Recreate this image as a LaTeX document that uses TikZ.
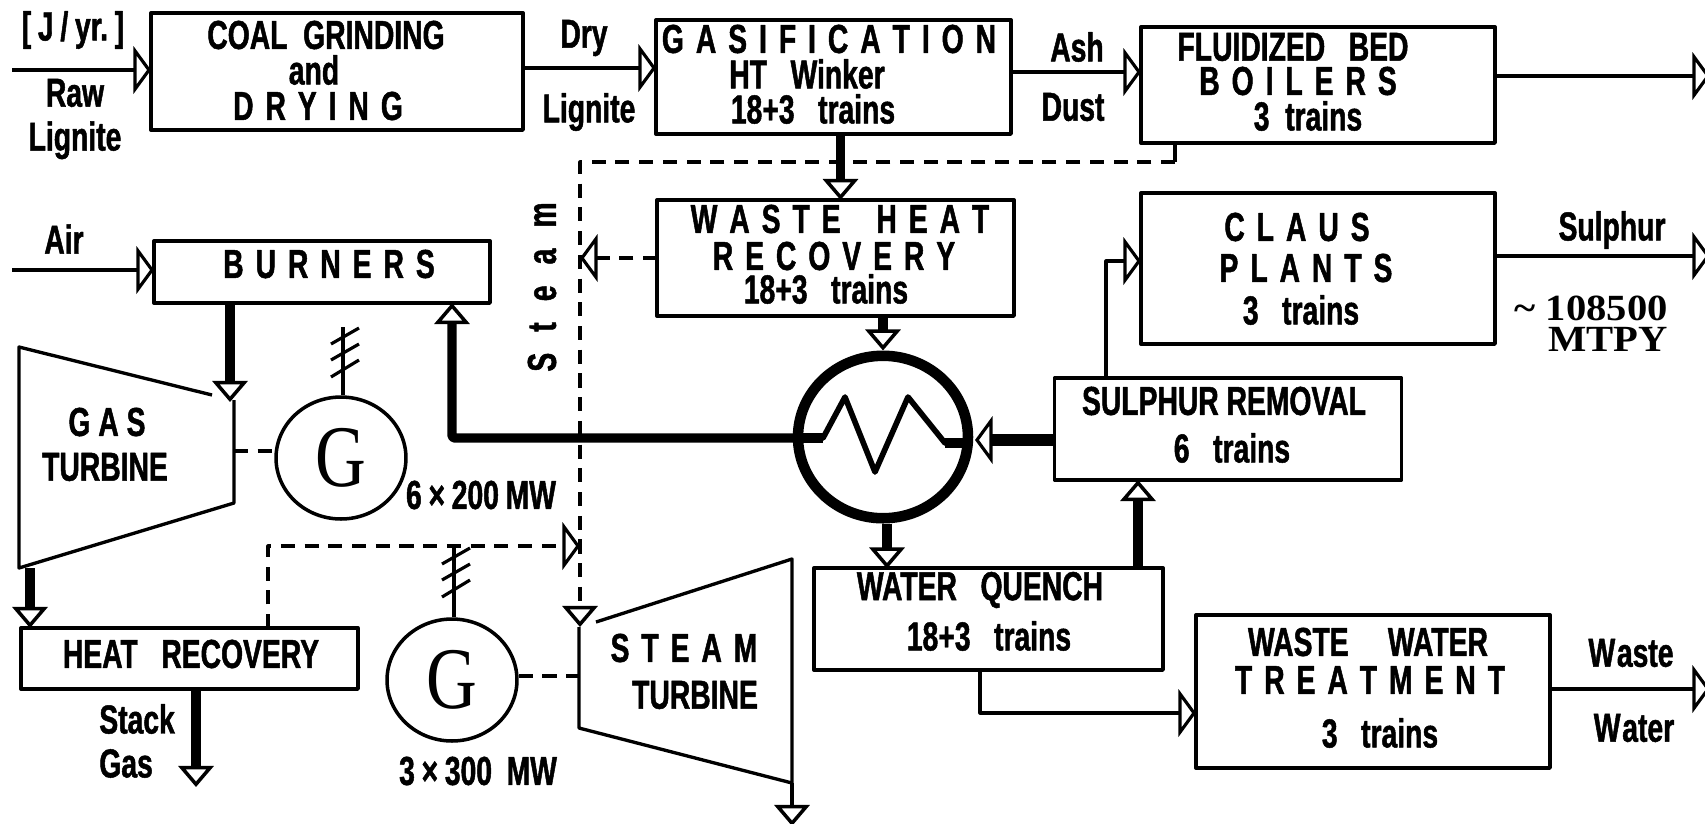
\documentclass[tikz,border=0pt]{standalone}
\usepackage{fontspec}
\setmainfont{Liberation Sans}[FakeStretch=0.7,UprightFont=* Bold,FakeBold=1.2]
\newfontfamily\genfont{Liberation Serif}[FakeStretch=0.8]
\newfontfamily\tonfont{Liberation Serif}[FakeStretch=1.1,UprightFont=* Bold]
\usetikzlibrary{arrows.meta,calc,positioning,shapes.geometric}
\tikzset{
  unit box/.style 2 args={draw,line width=1.9pt,minimum width=#1*0.02cm,minimum height=#2*0.02cm,inner sep=0pt,outer sep=0pt},
  unit label/.style={font=\fontsize{23}{25}\selectfont,inner sep=0pt,align=center},
  spread label/.style={unit label,execute at begin node={\spaceskip=6.8pt\relax}},
  gen/.style={draw,ellipse,line width=2pt,minimum width=2.6cm,minimum height=2.44cm,inner sep=0pt,font=\genfont\fontsize{50}{50}\selectfont},
  side tip/.style={-{Triangle[length=10pt,width=27pt,fill=white,line width=1.8pt]}},
  drop tip/.style={-{Triangle[length=12pt,width=20pt,fill=white,line width=2pt]}},
  thin flow/.style={line width=1.8pt,side tip},
  thick flow/.style={line width=5.2pt,drop tip},
  steam flow/.style={line width=1.8pt,dash pattern=on 8pt off 5.5pt},
  shell/.style={line width=1.9pt}
}
\newcommand{\BusTicks}[1]{\draw[line width=1.8pt,shift={(#1)}] (-12,17)--(16,1) (-12,33)--(16,17) (-12,50)--(16,33);}

\begin{document}
\begin{tikzpicture}[x=0.02cm,y=-0.02cm,line join=round]
  \useasboundingbox (0,0) rectangle (1705,823);

  \node[unit box={372}{117}] (coal)    at (337,71.5)   {};
  \node[unit box={355}{114}] (gasif)   at (833.5,77)   {};
  \node[unit box={354}{116}] (boilers) at (1318,85)    {};
  \node[unit box={357}{116}] (whr)     at (835.5,258)  {};
  \node[unit box={354}{151}] (claus)   at (1318,268.5) {};
  \node[unit box={336}{62}]  (burners) at (322,272)    {};
  \node[unit box={347}{102}] (sulrem)  at (1228,429)   {};
  \node[unit box={349}{102}] (quench)  at (988.5,619)  {};
  \node[unit box={354}{153}] (wwt)     at (1373,691.5) {};
  \node[unit box={337}{61}]  (hrec)    at (189.5,658.5) {};
  \node[gen] (genA) at (341,458) {G};
  \node[gen] (genB) at (452,680) {G};
  \node[draw,ellipse,line width=6pt,minimum width=3.4cm,minimum height=3.25cm,inner sep=0pt] (hx) at (883,437) {};

  \coordinate (rawin)  at (12,70);
  \coordinate (airin)  at (12,270);
  \coordinate (dry)    at (0,68);
  \coordinate (ash)    at (0,72);
  \coordinate (boilout) at (1710,76);
  \coordinate (sulout) at (1710,256);
  \coordinate (wwout)  at (1710,689);
  \coordinate (gtin)   at (230,402);
  \coordinate (gtout)  at (30,568);
  \coordinate (hgas)   at (452,438);
  \coordinate (clausin) at (1106,261);
  \coordinate (qout)   at (980,713);
  \coordinate (stack)  at (196,787);
  \coordinate (stout)  at (792,783);
  \coordinate (stend)  at (792,826);
  \coordinate (stin)   at (580,627);
  \coordinate (boilst) at (1175,162);
  \coordinate (stmain) at (580,162);
  \coordinate (hrst)   at (268,546);
  \coordinate (stmid)  at (580,546);
  \coordinate (busA)   at (343,327);
  \coordinate (busB)   at (454,547);

  % turbines
  \draw[shell] (212,395)--(19,347)--(19,568)--(234,503)--(234,400);
  \draw[shell] (596,622)--(stout|-0,559)--(stout)--(579,728)--(579,627);

  % main flows
  \draw[thin flow] (rawin) -- (rawin -| coal.west);
  \draw[thin flow] (airin) -- (airin -| burners.west);
  \draw[thin flow] (coal.east |- dry) -- (gasif.west |- dry);
  \draw[thin flow] (gasif.east |- ash) -- (boilers.west |- ash);
  \draw[thin flow] (boilers.east |- boilout) -- (boilout);
  \draw[thin flow] (claus.east |- sulout) -- (sulout);
  \draw[thin flow] (wwt.east |- wwout) -- (wwout);
  \draw[thin flow] (sulrem.north -| clausin) -- (clausin) -- (claus.west |- clausin);
  \draw[thin flow] (quench.south -| qout) -- (qout) -- (wwt.west |- qout);
  \draw[line width=1.8pt,drop tip] (stout) -- (stend);
  \draw[thick flow] (burners.south -| gtin) -- (gtin);
  \draw[thick flow] (gtout) -- (hrec.north -| gtout);
  \draw[thick flow] (hrec.south -| stack) -- (stack);
  \draw[thick flow] (gasif.south -| whr.north) ++(5,0) -- ++(0,66);
  \draw[thick flow] (whr.south -| hx.north) -- (hx.north);
  \draw[thick flow] (hx.south) ++(4,0) -- ++(0,45);
  \draw[thick flow] (quench.north -| 1138,0) -- (sulrem.south -| 1138,0);
  \draw[thick flow,rounded corners=1pt] (hx.west |- hgas) -- (hgas) -- (burners.south -| hgas);
  \draw[line width=6.5pt,side tip] (sulrem.west |- 0,440) -- (975,440);

  % exchanger coil
  \draw[line width=3.2pt] (hx.west |- hgas) -- (823,438) -- (845,397) -- (875,472) -- (908,397) -- (945,443) -- (968,443);
  \draw[line width=5.5pt] (hx.west |- hgas) -- (823,438);
  \draw[line width=5.5pt] (945,443) -- (968,443);

  % steam lines
  \draw[line width=1.8pt] (boilers.south -| boilst) -- (boilst);
  \draw[steam flow,drop tip] (boilst) -- (stmain) -- (stin);
  \draw[steam flow,side tip] (whr.west) -- (whr.west -| stmain);
  \draw[steam flow,side tip] (hrec.north -| hrst) -- (hrst) -- (stmid);
  \draw[steam flow] (234,451) -- (genA.west |- 0,451);
  \draw[steam flow] (genB.east |- 0,676) -- (579,676);

  % generator leads
  \draw[line width=1.8pt] (genA.north -| busA) -- (busA);
  \draw[line width=1.8pt] (genB.north -| busB) -- (busB);
  \BusTicks{busA}
  \BusTicks{busB}

  \node[unit label] (units)  at (73,30)    {[\,J\,/\,yr.\,]};
  \node[unit label] (raw)    at (75,119)   {Raw\\Lignite};
  \node[unit label] (coalA)  at (326,35)   {COAL\ \ GRINDING};
  \node[unit label] (coalB)  at (314,70)   {and};
  \node[spread label] (coalC)  at (318,106)  {D R Y I N G};
  \node[unit label] (dryA)   at (584,38)   {Dry};
  \node[unit label] (dryB)   at (589,112)  {Lignite};
  \node[spread label] (gasA)   at (829,39)   {G A S I F I C A T I O N};
  \node[unit label] (gasB)   at (807,74)   {HT\ \ \ Winker};
  \node[unit label] (gasC)   at (813,109)  {18+3\ \ \ trains};
  \node[unit label] (ashA)   at (1077,47)  {Ash};
  \node[unit label] (ashB)   at (1073,107) {Dust};
  \node[unit label] (boilA)  at (1293,47)  {FLUIDIZED\ \ \ BED};
  \node[spread label] (boilB)  at (1298,81)  {B O I L E R S};
  \node[unit label] (boilC)  at (1308,116) {3\ \ trains};
  \node[unit label] (air)    at (64,239)   {Air};
  \node[spread label] (burn)   at (329,264)  {B U R N E R S};
  \node[unit label,rotate=90,execute at begin node={\spaceskip=12pt\relax}] (steam) at (542,287) {S t e a m};
  \node[spread label] (whrA)   at (840,219)  {W A S T E\ \ \ H E A T};
  \node[spread label] (whrB)   at (834,256)  {R E C O V E R Y};
  \node[unit label] (whrC)   at (826,289)  {18+3\ \ \ trains};
  \node[spread label] (clausA) at (1297,227) {C L A U S};
  \node[spread label] (clausB) at (1306,268) {P L A N T S};
  \node[unit label] (clausC) at (1301,310) {3\ \ \ trains};
  \node[unit label] (sulph)  at (1612,230) {Sulphur};
  \node[unit label,font=\tonfont\fontsize{21}{17.5}\selectfont,align=right,anchor=east] (tons) at (1668,324) {\textasciitilde{} 108500\\MTPY};
  \node[unit label] (remA)   at (1224,401) {SULPHUR\ REMOVAL};
  \node[unit label] (remB)   at (1232,448) {6\ \ \ trains};
  \node[unit label] (gtA)    at (107,422)  {G A S};
  \node[unit label] (gtB)    at (105,467)  {TURBINE};
  \node[unit label] (powA)   at (481,495)  {6\,×\,200\,MW};
  \node[unit label] (hrA)    at (191,654)  {HEAT\ \ \ RECOVERY};
  \node[unit label,align=left,anchor=west] (stackgas) at (99,741) {Stack\\Gas};
  \node[unit label] (powB)   at (478,771)  {3\,×\,300\,\ MW};
  \node[spread label] (stA)    at (684,648)  {S T E A M};
  \node[unit label] (stB)    at (695,695)  {TURBINE};
  \node[unit label] (qA)     at (980,590)  {WATER\ \ \ QUENCH};
  \node[unit label] (qB)     at (989,636)  {18+3\ \ \ trains};
  \node[unit label] (wwA)    at (1368,642) {WASTE\ \ \ \ \ WATER};
  \node[spread label] (wwB)    at (1370,680) {T R E A T M E N T};
  \node[unit label] (wwC)    at (1380,733) {3\ \ \ trains};
  \node[unit label] (wasteA) at (1631,653) {W\kern1pt aste};
  \node[unit label] (wasteB) at (1634,728) {W\kern1pt ater};
\end{tikzpicture}
\end{document}
